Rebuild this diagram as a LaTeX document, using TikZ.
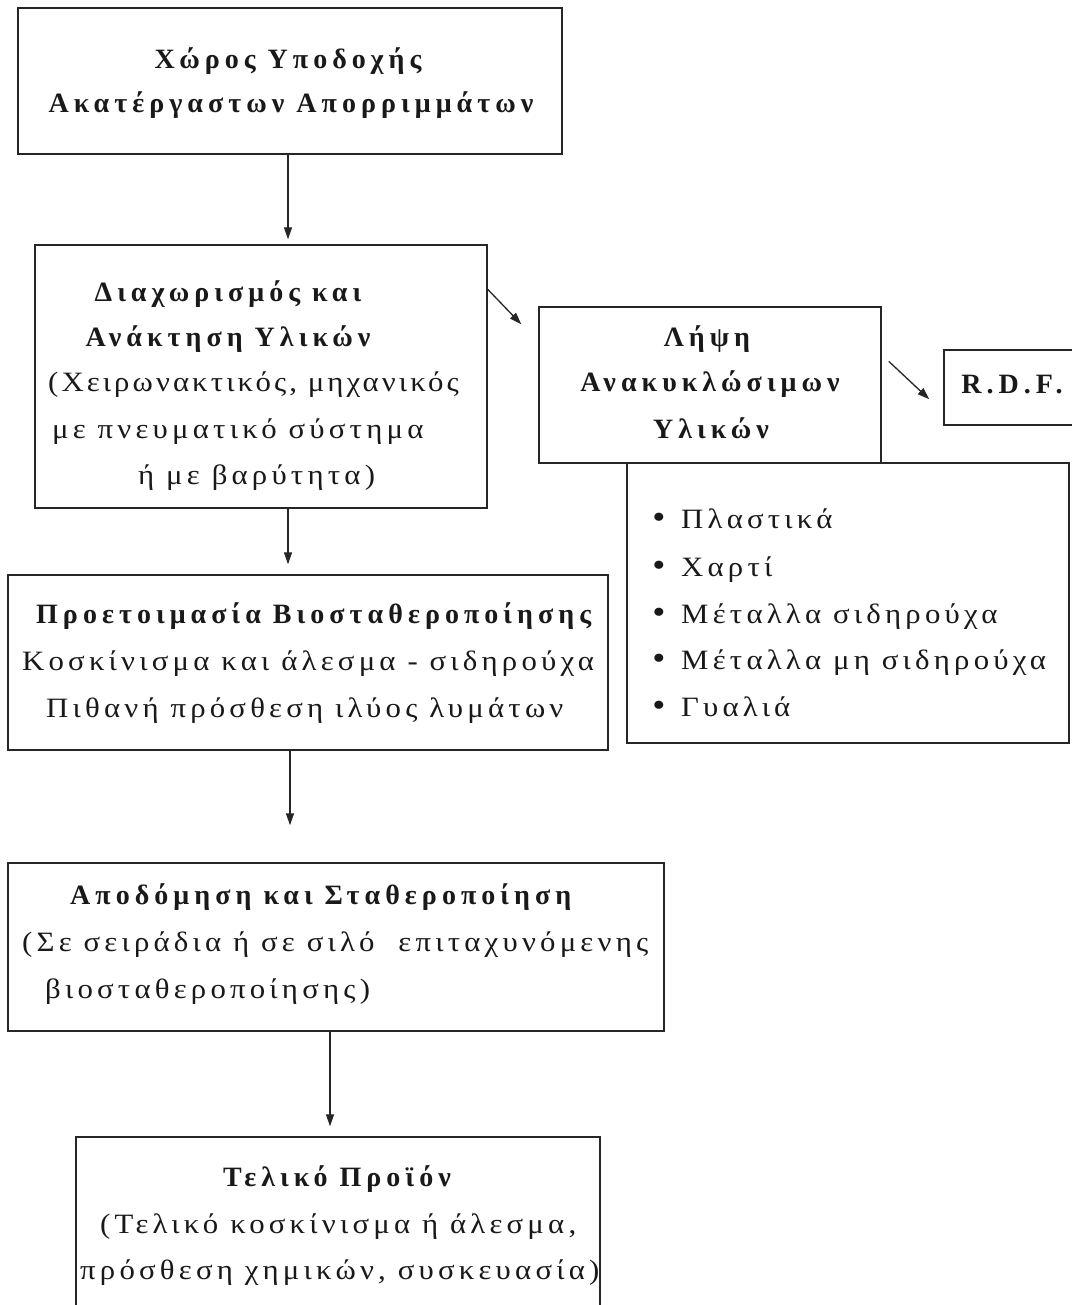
\documentclass[tikz,border=0pt]{standalone}
\usepackage{fontspec}
\setmainfont{Liberation Serif}[LetterSpace=15, FakeStretch=1.1, BoldFeatures={LetterSpace=18, FakeStretch=1.0}]
\usetikzlibrary{arrows.meta}
\begin{document}
\begin{tikzpicture}[x=1pt,y=-1pt,
  box/.style={draw=black!85, line width=1.4pt, inner sep=0pt, rectangle},
  txt/.style={inner sep=0pt, text=black!90, font=\fontsize{28}{32}\selectfont, text height=19pt, text depth=6pt},
  hd/.style={txt, font=\fontsize{28}{32}\selectfont\bfseries},
  arr/.style={line width=1.3pt, draw=black!85, -{Triangle[length=12pt,width=8pt]}}]
\useasboundingbox[fill=white] (0,0) rectangle (1071,1305);

% boxes
\node[box, minimum width=544, minimum height=146] (b1) at (290,81) {};
\node[box, minimum width=452, minimum height=263] (b2) at (261,376.5) {};
\node[box, minimum width=342, minimum height=156] (b3) at (710,385) {};
\node[box, minimum width=136, minimum height=75] (rdf) at (1012,387.5) {};
\node[box, minimum width=442, minimum height=280] (lst) at (848,603) {};
\node[box, minimum width=600, minimum height=175] (b4) at (308,662.5) {};
\node[box, minimum width=656, minimum height=168] (b5) at (336,947) {};
\node[box, minimum width=524, minimum height=183] (b6) at (338,1228.5) {};

% texts box 1
\node[hd] (t11) at (288,62) {Χώρος Υποδοχής};
\node[hd] (t12) at (291,106) {Ακατέργαστων Απορριμμάτων};
% box 2
\node[hd] (t21) at (228,295) {Διαχωρισμός και};
\node[hd] (t22) at (228,340) {Ανάκτηση Υλικών};
\node[txt, anchor=west] (t23) at (48,385) {\addfontfeature{LetterSpace=11}(Χειρωνακτικός, μηχανικός};
\node[txt, anchor=west] (t24) at (52,432) {με πνευματικό σύστημα};
\node[txt, anchor=west] (t25) at (138,478) {ή με βαρύτητα)};
% box 3
\node[hd] (t31) at (707,340) {Λήψη};
\node[hd] (t32) at (710,385) {Ανακυκλώσιμων};
\node[hd] (t33) at (711,432) {Υλικών};
% rdf
\node[hd] (trdf) at (1012,387) {R.D.F.};
% list
\foreach \i/\yy/\tx in {1/522/Πλαστικά, 2/570/Χαρτί, 3/617/Μέταλλα σιδηρούχα, 4/663/Μέταλλα μη σιδηρούχα, 5/710/Γυαλιά}{
  \node[txt, font=\fontsize{34}{34}\selectfont] (bul\i) at (659,\yy) {•};
  \node[txt, anchor=west] (li\i) at (681,\yy) {\tx};
}
% box 4
\node[hd, anchor=west] (t41) at (36,617) {Προετοιμασία Βιοσταθεροποίησης};
\node[txt, anchor=west] (t42) at (22,664) {Κοσκίνισμα και άλεσμα - σιδηρούχα};
\node[txt, anchor=west] (t43) at (46,711) {Πιθανή πρόσθεση ιλύος λυμάτων};
% box 5
\node[hd, anchor=west] (t51) at (70,898) {Αποδόμηση και Σταθεροποίηση};
\node[txt, anchor=west] (t52) at (22,945) {(Σε σειράδια ή σε σιλό\ \ επιταχυνόμενης};
\node[txt, anchor=west] (t53) at (45,992) {βιοσταθεροποίησης)};
% box 6
\node[hd] (t61) at (337,1180) {Τελικό Προϊόν};
\node[txt, anchor=west] (t62) at (100,1227) {(Τελικό κοσκίνισμα ή άλεσμα,};
\node[txt, anchor=west] (t63) at (80,1273) {πρόσθεση χημικών, συσκευασία)};

% arrows
\draw[arr, shorten >=5pt] ([xshift=-2pt]b1.south) -- ([xshift=-2pt]b1.south |- b2.north);
\draw[arr, shorten >=10pt] ([xshift=27pt]b2.south) -- ([xshift=27pt]b2.south |- b4.north);
\draw[arr, shorten >=37pt] ([xshift=-18pt]b4.south) -- ([xshift=-18pt]b4.south |- b5.north);
\draw[arr, shorten >=10pt] ([xshift=-6pt]b5.south) -- ([xshift=-6pt]b5.south |- b6.north);
\draw[arr] ([yshift=-45pt]b2.north east) -- ([xshift=-17pt,yshift=-18pt]b3.north west);
\draw[arr] ([xshift=7pt,yshift=-55pt]b3.north east) -- ([xshift=-14pt,yshift=-50pt]rdf.north west);
\end{tikzpicture}
\end{document}
